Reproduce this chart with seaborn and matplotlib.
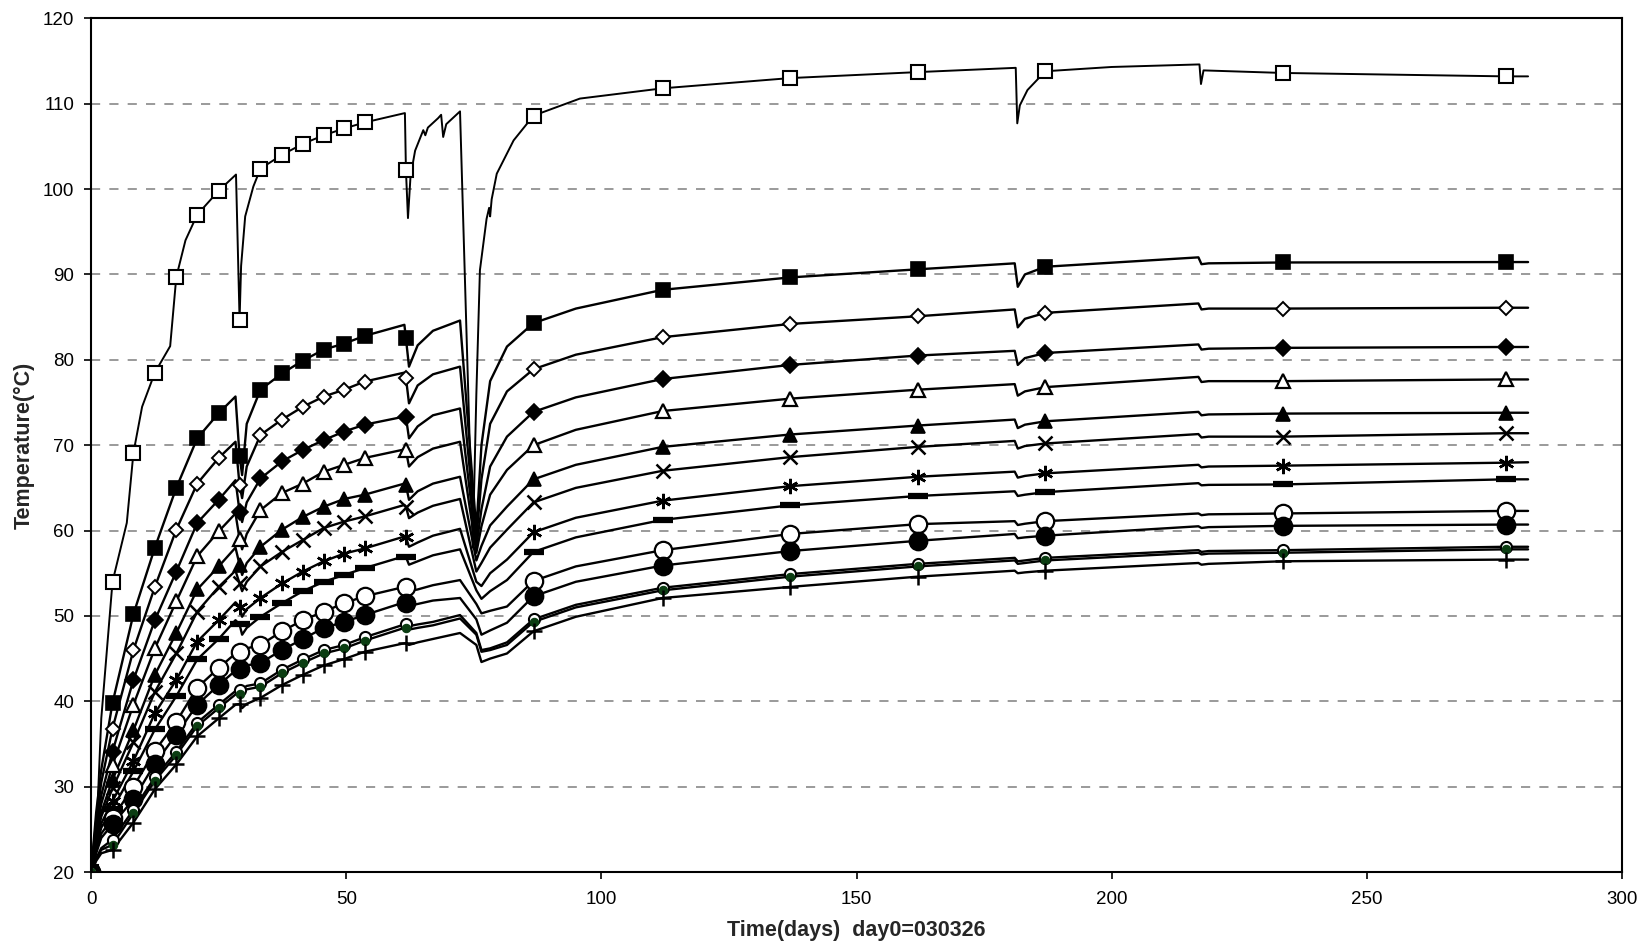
import numpy as np
import pandas as pd
import seaborn as sns
import matplotlib
matplotlib.use("Agg")
import matplotlib.pyplot as plt

# time grid shared by the 13 lower curves (days)
days = [0, 1, 2, 4.2, 8.3, 12.5, 16.7, 20.8, 25, 28.3, 29.1, 29.6, 30.5, 33.2, 37.4,
        41.5, 45.6, 49.6, 53.6, 61.4, 61.7, 62.3, 64, 67, 72.3, 75.5, 76.5, 78.2, 81.5,
        86.7, 95, 112, 137, 162, 181, 181.6, 183, 187, 217, 217.6, 219, 233.5, 277.2, 281.6]

# days where a marker sits on each curve
marker_days = [0, 4.2, 8.3, 12.5, 16.7, 20.8, 25, 29.1, 33.2, 37.4, 41.5, 45.6, 49.6,
               53.6, 61.7, 86.7, 112, 137, 162, 187, 233.5, 277.2]

# top curve has its own, finer time grid
top_days = [0, 0.8, 2.0, 4.2, 7.0, 8.3, 10.0, 12.5, 15.5, 16.7, 18.5, 20.8, 25, 28.4, 29.1,
            29.4, 30.2, 31.8, 33.2, 37.4, 41.5, 45.6, 49.6, 53.6, 61.5, 61.7, 62.1, 62.6,
            63.5, 65.1, 65.5, 66.0, 68.0, 68.6, 69.0, 69.6, 72.3, 74.8, 75.5, 76.2, 77.5,
            78.0, 78.2, 78.5, 79.5, 82.8, 86.7, 95.8, 112, 137, 162, 181.2, 181.5, 182.0,
            183.5, 187, 200, 217.2, 217.5, 218, 233.5, 277.2, 281.6]
top_temp = [20, 21, 38, 54.0, 60.9, 69.1, 74.5, 78.5, 81.6, 89.7, 94.0, 97.0, 99.8, 101.7, 84.7,
            91.0, 96.8, 100.3, 102.4, 104.0, 105.3, 106.3, 107.1, 107.8, 108.9, 102.2, 96.6, 101.5,
            104.5, 106.9, 106.3, 107.2, 108.3, 108.7, 106.1, 107.6, 109.1, 58.0, 76.0, 90.5, 96.5,
            97.8, 96.8, 98.8, 101.8, 105.7, 108.6, 110.6, 111.8, 113.0, 113.7, 114.2, 107.7, 109.8,
            111.6, 113.8, 114.3, 114.6, 112.3, 113.9, 113.6, 113.2, 113.2]

t_sq_filled = [20, 27, 32, 39.8, 50.2, 58.0, 65.0, 70.8, 73.75, 75.7, 68.7, 66.5, 72.5, 76.5, 78.4,
               79.9, 81.2, 81.9, 82.8, 84.1, 82.5, 79.2, 81.7, 83.4, 84.6, 60.1, 70.0, 77.5, 81.55,
               84.3, 86.0, 88.2, 89.65, 90.6, 91.3, 88.55, 90.0, 90.9, 92.0, 91.2, 91.3, 91.4, 91.45, 91.45]
t_dia_open = [20, 26, 30.5, 36.8, 46.0, 53.4, 60.1, 65.5, 68.5, 70.4, 65.3, 63.8, 67.5, 71.2, 73.0,
              74.5, 75.7, 76.5, 77.45, 78.5, 77.9, 74.9, 77.0, 78.3, 79.2, 58.9, 66.0, 72.5, 76.3,
              78.9, 80.6, 82.65, 84.2, 85.1, 85.9, 83.8, 84.8, 85.5, 86.6, 85.9, 86.0, 86.0, 86.1, 86.1]
t_dia_filled = [20, 25, 29, 34.1, 42.5, 49.5, 55.2, 60.9, 63.6, 65.9, 62.2, 61.0, 63.3, 66.1, 68.1,
                69.45, 70.6, 71.6, 72.4, 73.35, 73.3, 70.8, 72.2, 73.5, 74.3, 58.1, 62.5, 67.5, 71.0,
                73.9, 75.6, 77.75, 79.4, 80.5, 81.05, 79.4, 80.2, 80.8, 81.8, 81.2, 81.3, 81.4, 81.5, 81.5]
t_tri_open = [20, 24.5, 28, 32.5, 39.6, 46.2, 51.7, 57.0, 59.9, 62.0, 59.0, 57.8, 59.6, 62.4, 64.4,
              65.5, 66.9, 67.7, 68.5, 69.5, 69.4, 67.5, 68.6, 69.6, 70.4, 57.4, 60.5, 64.2, 67.1,
              70.0, 71.8, 74.0, 75.45, 76.5, 77.15, 75.8, 76.3, 76.8, 78.0, 77.4, 77.5, 77.5, 77.7, 77.7]
t_tri_filled = [20, 24, 27, 30.8, 36.6, 43.1, 48.0, 53.1, 55.8, 58.0, 56.0, 54.8, 56.2, 58.1, 60.1,
                61.6, 62.8, 63.7, 64.2, 65.5, 65.3, 63.6, 64.6, 65.5, 66.3, 56.5, 58.2, 60.6, 62.8,
                66.0, 67.7, 69.8, 71.25, 72.3, 73.0, 72.0, 72.4, 72.8, 73.9, 73.5, 73.6, 73.7, 73.8, 73.8]
t_cross = [20, 23.6, 26.5, 29.8, 35.2, 41.1, 45.6, 50.5, 53.4, 55.3, 53.8, 52.9, 54.0, 55.8, 57.5,
           58.9, 60.3, 61.05, 61.65, 63.0, 62.8, 61.45, 62.1, 62.9, 63.7, 55.2, 56.2, 58.0, 60.1,
           63.3, 65.0, 67.0, 68.6, 69.8, 70.5, 69.6, 69.9, 70.2, 71.3, 70.9, 71.0, 71.0, 71.4, 71.4]
t_star = [20, 23.2, 25.7, 28.3, 33.0, 38.6, 42.5, 47.0, 49.5, 51.6, 51.1, 49.9, 50.8, 52.1, 53.8,
          55.2, 56.4, 57.3, 57.9, 59.3, 59.2, 58.1, 58.6, 59.4, 60.2, 54.0, 53.5, 55.0, 56.6,
          59.8, 61.5, 63.5, 65.2, 66.3, 66.9, 66.2, 66.4, 66.7, 67.7, 67.4, 67.5, 67.6, 67.95, 68.0]
t_dash = [20, 22.9, 25.2, 27.4, 31.8, 36.7, 40.6, 44.9, 47.3, 49.5, 49.0, 47.8, 48.6, 49.9, 51.5,
          52.9, 54.0, 54.8, 55.6, 57.0, 56.9, 56.0, 56.4, 57.1, 57.8, 53.0, 52.0, 52.9, 54.2,
          57.5, 59.2, 61.25, 62.95, 64.05, 64.6, 64.05, 64.2, 64.5, 65.55, 65.3, 65.35, 65.4, 66.0, 66.0]
t_circ_open = [20, 22.5, 24.5, 26.3, 30.0, 34.2, 37.6, 41.6, 43.9, 45.6, 45.8, 45.9, 46.2, 46.6, 48.2,
               49.5, 50.5, 51.5, 52.3, 53.4, 53.4, 52.9, 53.1, 53.6, 54.2, 51.4, 50.3, 50.6, 51.1,
               54.1, 55.8, 57.7, 59.6, 60.75, 61.1, 60.65, 60.8, 61.1, 62.0, 61.8, 61.9, 62.0, 62.3, 62.3]
t_circ_filled = [20, 22.2, 24, 25.6, 28.5, 32.7, 36.1, 39.6, 41.9, 43.6, 43.8, 43.9, 44.2, 44.5, 46.0,
                 47.3, 48.6, 49.3, 50.1, 51.6, 51.5, 51.2, 51.4, 51.8, 52.1, 49.6, 47.8, 48.3, 49.2,
                 52.3, 54.0, 55.9, 57.6, 58.8, 59.6, 59.1, 59.2, 59.4, 60.5, 60.3, 60.4, 60.55, 60.7, 60.7]
t_small_open = [20, 21.6, 22.8, 23.8, 27.3, 31.1, 34.1, 37.5, 39.6, 41.2, 41.3, 41.4, 41.8, 42.1, 43.7,
                44.9, 46.0, 46.6, 47.5, 49.0, 49.0, 48.8, 49.0, 49.3, 50.1, 48.0, 46.0, 46.2, 46.9,
                49.6, 51.3, 53.3, 54.9, 56.1, 56.8, 56.4, 56.5, 56.8, 57.7, 57.5, 57.6, 57.7, 58.1, 58.1]
t_green = [20, 21.5, 22.6, 23.2, 26.9, 30.7, 33.7, 37.1, 39.2, 40.8, 40.9, 41.0, 41.4, 41.7, 43.3,
           44.5, 45.6, 46.2, 47.1, 48.6, 48.6, 48.4, 48.6, 48.9, 49.7, 47.8, 45.8, 46.0, 46.6,
           49.3, 51.0, 53.0, 54.6, 55.8, 56.5, 56.1, 56.2, 56.5, 57.4, 57.2, 57.3, 57.4, 57.8, 57.8]
t_plus = [20, 21.3, 22.2, 22.6, 25.8, 29.7, 32.6, 35.9, 38.0, 39.6, 39.7, 39.2, 39.7, 40.4, 41.9,
          43.1, 44.2, 44.95, 45.8, 46.8, 46.8, 46.6, 46.9, 47.3, 48.0, 46.6, 44.6, 45.0, 45.6,
          48.2, 49.9, 52.1, 53.4, 54.6, 55.3, 55.0, 55.1, 55.3, 56.2, 56.0, 56.1, 56.4, 56.6, 56.6]

# (values, marker, size, face, edge width)
curves = [
    (t_sq_filled, "s", 10, "black", 1.2),
    (t_dia_open, "D", 7, "white", 1.4),
    (t_dia_filled, "D", 8, "black", 1.2),
    (t_tri_open, "^", 10, "white", 1.6),
    (t_tri_filled, "^", 10, "black", 1.2),
    (t_cross, "x", 10, "black", 1.8),
    (t_star, (6, 2, 0), 11, "black", 1.8),
    (t_dash, "_", 15, "black", 4.5),
    (t_circ_open, "o", 12.5, "white", 1.6),
    (t_circ_filled, "o", 13, "black", 1.2),
    (t_small_open, "o", 8, "white", 1.5),
    (t_green, "o", 6, "#0b3d12", 0.8),
    (t_plus, "+", 11, "black", 1.8),
]

sns.set_style("white")
plt.rcParams["font.family"] = ["Liberation Sans", "DejaVu Sans"]

fig = plt.figure(figsize=(16.44, 9.49), dpi=100)
ax = fig.add_axes([0.0554, 0.0811, 0.9312, 0.8996])

# top curve
sns.lineplot(x=top_days, y=top_temp, color="black", lw=1.4, ax=ax, estimator=None, sort=False)
top = pd.DataFrame({"day": top_days, "temp": top_temp})
tm = top[top["day"].isin(marker_days)]
ax.plot(tm["day"], tm["temp"], ls="none", marker="s", ms=9.5, mfc="white", mec="black", mew=1.5, zorder=5)

for vals, mk, ms, face, mew in curves:
    df = pd.DataFrame({"day": days, "temp": vals})
    sns.lineplot(data=df, x="day", y="temp", color="black", lw=1.7, ax=ax, estimator=None, sort=False)
    m = df[df["day"].isin(marker_days)]
    edge = "#0b3d12" if face == "#0b3d12" else "black"
    ax.plot(m["day"], m["temp"], ls="none", marker=mk, ms=ms, mfc=face, mec=edge, mew=mew, zorder=5)

ax.set_xlim(0, 300)
ax.set_ylim(20, 120)
ax.set_xticks(range(0, 301, 50))
ax.set_yticks(range(20, 121, 10))
for yv in range(30, 120, 10):
    ax.axhline(yv, color="#7f7f7f", lw=1.1, ls=(0, (6, 6)), zorder=0)

for s in ax.spines.values():
    s.set_color("black")
    s.set_linewidth(1.5)
ax.tick_params(axis="both", direction="out", length=5, width=1.2, color="black",
               labelsize=13.5, labelcolor="black", bottom=True, left=True)
ax.tick_params(axis="x", pad=8.5)
ax.tick_params(axis="y", pad=7)
ax.set_xlabel("Time(days)  day0=030326", fontsize=15.5, fontweight="bold", labelpad=9)
ax.set_ylabel("Temperature(°C)", fontsize=15.5, fontweight="bold", labelpad=6)

fig.savefig("out.png", dpi=100)
